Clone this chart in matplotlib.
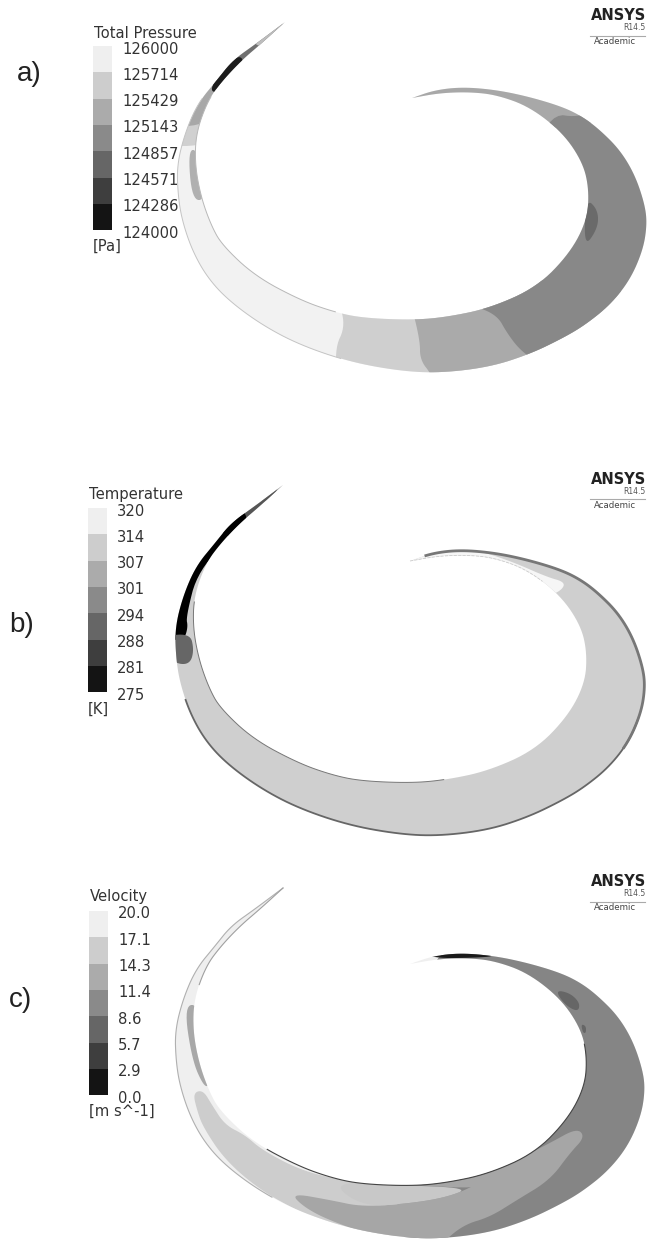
import numpy as np
import matplotlib
matplotlib.use("Agg")
import matplotlib.pyplot as plt
from matplotlib.patches import Polygon

# legend values, top to bottom
pressure_ticks = ["126000", "125714", "125429", "125143", "124857", "124571", "124286", "124000"]
temperature_ticks = ["320", "314", "307", "301", "294", "288", "281", "275"]
velocity_ticks = ["20.0", "17.1", "14.3", "11.4", "8.6", "5.7", "2.9", "0.0"]
greys = ["#efefef", "#cdcdcd", "#ababab", "#8a8a8a", "#666666", "#3e3e3e", "#141414"]

# blade outline, in picture pixels
outer_x = [285, 257, 233, 217, 198, 185, 177, 178, 182, 192, 207, 228, 262, 300, 350, 400, 440, 490, 530, 563, 585, 610, 630, 643, 647, 645, 635, 620, 600, 583, 563, 530, 497, 463, 435, 412]
outer_y = [22, 43, 60, 80, 103, 133, 165, 195, 220, 250, 277, 300, 325, 345, 362, 371, 373, 367, 354, 338, 325, 305, 280, 250, 225, 205, 175, 150, 130, 117, 107, 97, 90, 87, 90, 98]
inner_x = [412, 440, 470, 497, 530, 563, 583, 589, 587, 570, 537, 490, 447, 413, 363, 334, 300, 255, 222, 211, 201, 195, 196, 208, 223, 242, 262, 285]
inner_y = [98, 93, 92, 95, 107, 133, 163, 190, 220, 253, 287, 308, 317, 320, 318, 312, 300, 276, 245, 225, 197, 165, 133, 100, 80, 60, 43, 22]

# contour bands painted in order: (grey, x list, y list)
pressure_bands = [
    ("#cfcfcf", [336, 346, 334, 340, 660, 660, 340], [295, 325, 350, 400, 400, 280, 280]),
    ("#aaaaaa", [410, 420, 420, 432, 440, 660, 660, 410], [300, 340, 360, 375, 400, 400, 280, 280]),
    ("#a8a8a8", [395, 560, 600, 590, 395], [70, 70, 110, 130, 125]),
    ("#888888", [472, 497, 507, 520, 537, 660, 660, 600, 583, 547, 520, 472], [305, 315, 333, 350, 362, 400, 100, 100, 118, 113, 200, 305]),
    ("#6a6a6a", [586, 598, 598, 584], [198, 210, 228, 248]),
    ("#d0d0d0", [150, 215, 210, 150], [146, 146, 112, 105]),
    ("#a8a8a8", [150, 205, 245, 245, 190], [124, 128, 90, 60, 55]),
    ("#707070", [205, 230, 290, 295, 250], [85, 95, 45, 20, 30]),
    ("#bdbdbd", [250, 275, 305, 305, 262], [45, 48, 25, 8, 20]),
    ("#1c1c1c", [206, 226, 246, 235], [92, 92, 60, 55]),
    ("#b0b0b0", [188, 198, 206, 192], [150, 150, 200, 200]),
]
temperature_bands = [
    ("#f6f6f6", [400, 480, 513, 547, 565, 562, 547, 463, 400], [535, 551, 562, 577, 582, 590, 597, 575, 575]),
    ("#aaaaaa", [300, 262, 255, 300], [465, 480, 505, 495]),
    ("#555555", [285, 250, 215, 235, 268], [472, 490, 530, 540, 510]),
    ("#000000", [250, 240, 198, 186, 188, 184, 160, 160, 220], [515, 528, 570, 617, 627, 640, 640, 540, 495]),
    ("#666666", [160, 190, 194, 190, 176, 160], [637, 633, 650, 664, 664, 650]),
]
velocity_bands = [
    ("#858585", [400, 660, 700, 380], [920, 920, 1320, 1320]),
    ("#cdcdcd", [193, 203, 212, 225, 245, 262, 300, 340, 400, 400, 335, 300, 260, 225, 203, 197], [1093, 1090, 1105, 1125, 1135, 1150, 1170, 1180, 1190, 1250, 1228, 1212, 1190, 1160, 1127, 1110]),
    ("#a6a6a6", [290, 330, 363, 413, 447, 470, 487, 520, 550, 577, 585, 570, 550, 517, 490, 463, 440, 400, 333, 305], [1193, 1200, 1207, 1203, 1197, 1188, 1177, 1158, 1143, 1128, 1137, 1153, 1180, 1200, 1217, 1225, 1245, 1245, 1222, 1208]),
    ("#a6a6a6", [345, 400, 520, 500, 397, 345], [1175, 1175, 1150, 1190, 1184, 1181]),
    ("#c8c8c8", [330, 397, 470, 447, 413, 363], [1182, 1185, 1188, 1197, 1203, 1207]),
    ("#666666", [555, 570, 580, 578, 565], [990, 993, 1003, 1012, 1005]),
    ("#666666", [581, 586, 586, 583], [1024, 1026, 1033, 1033]),
    ("#a8a8a8", [184, 200, 210, 204, 192], [1005, 1005, 1085, 1087, 1060]),
    ("#1a1a1a", [400, 470, 500, 470, 430], [945, 945, 956, 958, 958]),
    ("#b0b0b0", [203, 222, 228, 212], [970, 970, 985, 990]),
]


def smooth(x, y, closed=False):
    # chaikin corner cutting, just to round the hand read outlines
    pts = np.column_stack([x, y]).astype(float)
    for _ in range(3):
        if closed:
            nxt = np.roll(pts, -1, axis=0)
            pts = np.column_stack([0.75 * pts + 0.25 * nxt, 0.25 * pts + 0.75 * nxt]).reshape(-1, 2)
        else:
            a, b = pts[:-1], pts[1:]
            mid = np.column_stack([0.75 * a + 0.25 * b, 0.25 * a + 0.75 * b]).reshape(-1, 2)
            pts = np.vstack([pts[:1], mid, pts[-1:]])
    return pts


def draw_blade(ax, dx, dy, base, bands):
    out = smooth(outer_x, outer_y) + [dx, dy]
    inn = smooth(inner_x, inner_y) + [dx, dy]
    blade = Polygon(np.vstack([out, inn]), closed=True, fc=base, ec="none", zorder=1)
    ax.add_patch(blade)
    for grey, xs, ys in bands:
        pts = smooth(xs, ys, closed=True)
        band = ax.fill(pts[:, 0], pts[:, 1], color=grey, lw=0, zorder=2)[0]
        band.set_clip_path(blade)
    return out, inn


def edge(ax, pts, f0, f1, **kw):
    # draw part of a blade edge, f0 and f1 are fractions along the edge
    n = len(pts)
    part = pts[int(f0 * n):int(f1 * n)]
    ax.plot(part[:, 0], part[:, 1], zorder=4, **kw)


def draw_legend(ax, x, top, title, ticks, unit, title_y, unit_y):
    step = 26.3
    ys = top + step * np.arange(len(greys))
    ax.bar([x] * len(greys), [step] * len(greys), width=19, bottom=ys, align="edge", color=greys, zorder=3)
    ax.text(x + 1, title_y, title, fontsize=10.6, color="#333333", va="center", ha="left")
    for i, label in enumerate(ticks):
        ax.text(x + 29, top + 3 + step * i, label, fontsize=10.6, color="#333333", va="center", ha="left")
    ax.text(x, unit_y, unit, fontsize=10.6, color="#333333", va="center", ha="left")


def draw_logo(ax, y):
    ax.text(646, y, "ANSYS", fontsize=10.5, fontweight="bold", color="#222222", ha="right", va="center")
    ax.text(645, y + 12, "R14.5", fontsize=5.5, color="#555555", ha="right", va="center")
    ax.plot([590, 645], [y + 20, y + 20], color="#aaaaaa", lw=0.8)
    ax.text(615, y + 26, "Academic", fontsize=6.2, color="#444444", ha="center", va="center")


fig = plt.figure(figsize=(6.47, 12.39), dpi=100)
ax = fig.add_axes([0, 0, 1, 1])
ax.set_xlim(0, 647)
ax.set_ylim(1239, 0)
ax.axis("off")

# a) total pressure
out, inn = draw_blade(ax, 0, 0, "#f2f2f2", pressure_bands)
edge(ax, out, 0.12, 0.4, color="#c4c4c4", lw=0.7)
edge(ax, inn, 0.55, 0.85, color="#b8b8b8", lw=0.7)
draw_legend(ax, 93, 46, "Total Pressure", pressure_ticks, "[Pa]", 34, 246)
draw_logo(ax, 16)
ax.text(17, 74, "a)", fontsize=20, family="Liberation Sans", color="#222222", va="center")

# b) temperature
out, inn = draw_blade(ax, -2, 463, "#cfcfcf", temperature_bands)
edge(ax, out, 0.25, 0.65, color="#666666", lw=1.3)
edge(ax, out, 0.62, 0.97, color="#777777", lw=2.0)
edge(ax, inn, 0.45, 0.8, color="#777777", lw=0.7)
edge(ax, inn, 0.0, 0.18, color="#cccccc", lw=0.6, ls="--")
draw_legend(ax, 88, 508, "Temperature", temperature_ticks, "[K]", 495, 709)
draw_logo(ax, 479)
ax.text(9, 625, "b)", fontsize=20, family="Liberation Sans", color="#222222", va="center")

# c) velocity
out, inn = draw_blade(ax, -2, 866, "#efefef", velocity_bands)
edge(ax, out, 0.0, 0.36, color="#b0b0b0", lw=0.8)
edge(ax, inn, 0.82, 1.0, color="#a0a0a0", lw=0.8)
edge(ax, inn, 0.25, 0.62, color="#444444", lw=0.8)
draw_legend(ax, 89, 911, "Velocity", velocity_ticks, "[m s^-1]", 897, 1111)
draw_logo(ax, 882)
ax.text(9, 1000, "c)", fontsize=20, family="Liberation Sans", color="#222222", va="center")

fig.savefig("out.png", dpi=100)
